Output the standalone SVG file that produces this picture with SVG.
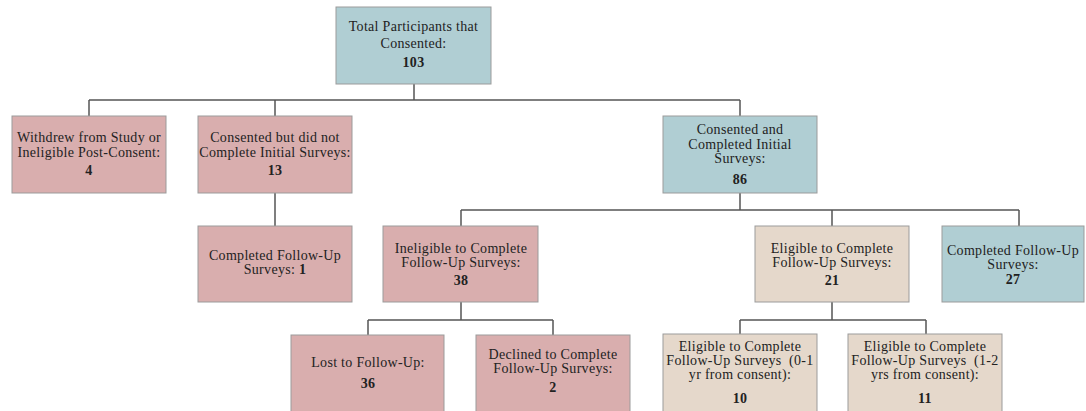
<svg xmlns="http://www.w3.org/2000/svg" width="1086" height="411" viewBox="0 0 1086 411">
<style>
  .box { stroke: #9b9b9b; stroke-width: 1; }
  .teal { fill: #b0ced3; }
  .pink { fill: #d9aeae; }
  .tan { fill: #e5d8cb; }
  text { font-family: "Liberation Serif", "Times New Roman", serif; font-size: 14px; letter-spacing: 0.3px; fill: #222; text-anchor: middle; }
  .num { font-weight: bold; }
  .conn { stroke: #555; stroke-width: 1.5; fill: none; }
</style>
<rect width="1086" height="411" fill="#ffffff"/>
<g id="connectors">
  <path class="conn" d="M414,84 V100 M89,100 H740 M89,100 V116 M275,100 V116 M740,100 V116"/>
  <path class="conn" d="M275,193 V226"/>
  <path class="conn" d="M740,193 V210 M461,210 H1019 M461,210 V226 M832,210 V226 M1019,210 V226"/>
  <path class="conn" d="M461,302 V320 M368,320 H553 M368,320 V335 M553,320 V335"/>
  <path class="conn" d="M832,302 V320 M740,320 H926 M740,320 V334 M926,320 V334"/>
</g>
<g id="total">
  <rect class="box teal" x="336" y="7" width="155" height="77"/>
  <text x="413.5" y="31">Total Participants that</text>
  <text x="413.5" y="48">Consented:</text>
  <text class="num" x="413.5" y="67">103</text>
</g>
<g id="withdrew">
  <rect class="box pink" x="12" y="116" width="154" height="77"/>
  <text x="89" y="142">Withdrew from Study or</text>
  <text x="89" y="157">Ineligible Post-Consent:</text>
  <text class="num" x="89" y="175">4</text>
</g>
<g id="not-complete-initial">
  <rect class="box pink" x="198" y="116" width="154" height="77"/>
  <text x="275" y="142">Consented but did not</text>
  <text x="275" y="157">Complete Initial Surveys:</text>
  <text class="num" x="275" y="175">13</text>
</g>
<g id="completed-initial">
  <rect class="box teal" x="663" y="116" width="154" height="77"/>
  <text x="740" y="134">Consented and</text>
  <text x="740" y="149">Completed Initial</text>
  <text x="740" y="163">Surveys:</text>
  <text class="num" x="740" y="184">86</text>
</g>
<g id="followup-1">
  <rect class="box pink" x="198" y="226" width="154" height="76"/>
  <text x="275" y="260">Completed Follow-Up</text>
  <text x="275" y="274">Surveys: <tspan class="num">1</tspan></text>
</g>
<g id="ineligible">
  <rect class="box pink" x="383" y="226" width="155" height="76"/>
  <text x="461" y="253">Ineligible to Complete</text>
  <text x="461" y="267">Follow-Up Surveys:</text>
  <text class="num" x="461" y="285">38</text>
</g>
<g id="eligible">
  <rect class="box tan" x="755" y="226" width="154" height="76"/>
  <text x="832" y="253">Eligible to Complete</text>
  <text x="832" y="267">Follow-Up Surveys:</text>
  <text class="num" x="832" y="285">21</text>
</g>
<g id="followup-27">
  <rect class="box teal" x="942" y="226" width="142" height="76"/>
  <text x="1013" y="255">Completed Follow-Up</text>
  <text x="1013" y="269">Surveys:</text>
  <text class="num" x="1013" y="284">27</text>
</g>
<g id="lost">
  <rect class="box pink" x="291" y="335" width="153" height="80"/>
  <text x="368" y="367">Lost to Follow-Up:</text>
  <text class="num" x="368" y="388">36</text>
</g>
<g id="declined">
  <rect class="box pink" x="476" y="335" width="154" height="80"/>
  <text x="553" y="359">Declined to Complete</text>
  <text x="553" y="373">Follow-Up Surveys:</text>
  <text class="num" x="553" y="392">2</text>
</g>
<g id="eligible-0-1">
  <rect class="box tan" x="663" y="334" width="154" height="80"/>
  <text x="740" y="351">Eligible to Complete</text>
  <text x="740" y="365">Follow-Up Surveys &#160;(0-1</text>
  <text x="740" y="379">yr from consent):</text>
  <text class="num" x="740" y="403">10</text>
</g>
<g id="eligible-1-2">
  <rect class="box tan" x="848" y="334" width="154" height="80"/>
  <text x="925" y="351">Eligible to Complete</text>
  <text x="925" y="365">Follow-Up Surveys &#160;(1-2</text>
  <text x="925" y="379">yrs from consent):</text>
  <text class="num" x="925" y="403">11</text>
</g>
</svg>
